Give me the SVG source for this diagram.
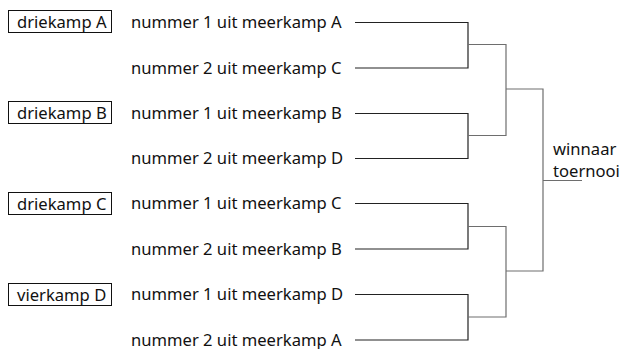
<svg xmlns="http://www.w3.org/2000/svg" width="624" height="349" viewBox="0 0 624 349">
  <style>
    text { font-family: "Noto Sans", "Open Sans", sans-serif; font-size: 16.6px; fill: #111; }
    .box { fill: #fff; stroke: #111; stroke-width: 1; }
    .r1 { fill: none; stroke: #222; stroke-width: 1.2; }
    .r2 { fill: none; stroke: #6e6e6e; stroke-width: 1.2; }
  </style>
  <rect width="624" height="349" fill="#fff"/>

  <!-- tournaments -->
  <g id="driekamp-a"><rect class="box" x="8.5" y="10.5" width="103" height="22"/><text x="17" y="28">driekamp A</text></g>
  <g id="driekamp-b"><rect class="box" x="8.5" y="101.5" width="103" height="22"/><text x="17" y="119">driekamp B</text></g>
  <g id="driekamp-c"><rect class="box" x="8.5" y="192.5" width="103" height="22"/><text x="17" y="210">driekamp C</text></g>
  <g id="vierkamp-d"><rect class="box" x="8.5" y="283.5" width="103" height="22"/><text x="17" y="301">vierkamp D</text></g>

  <!-- entrants -->
  <g id="p1"><text x="131" y="28">nummer 1 uit meerkamp A</text></g>
  <g id="p2"><text x="131" y="73.5">nummer 2 uit meerkamp C</text></g>
  <g id="p3"><text x="131" y="119">nummer 1 uit meerkamp B</text></g>
  <g id="p4"><text x="131" y="164">nummer 2 uit meerkamp D</text></g>
  <g id="p5"><text x="131" y="209">nummer 1 uit meerkamp C</text></g>
  <g id="p6"><text x="131" y="254.5">nummer 2 uit meerkamp B</text></g>
  <g id="p7"><text x="131" y="300">nummer 1 uit meerkamp D</text></g>
  <g id="p8"><text x="131" y="345.5">nummer 2 uit meerkamp A</text></g>

  <g id="winner"><text x="553" y="155" font-size="15.8">winnaar</text><text x="553" y="177" font-size="15.8">toernooi</text></g>

  <!-- bracket lines -->
  <g id="connectors">
    <path class="r1" d="M355 22.5H468V68H355"/>
    <path class="r1" d="M355 113.5H468V158.5H355"/>
    <path class="r1" d="M355 203.5H468V249H355"/>
    <path class="r1" d="M355 294.5H468V340H355"/>
    <path class="r2" d="M468 44.5H506V135.5H468"/>
    <path class="r2" d="M468 226.5H506V317H468"/>
    <path class="r2" d="M506 89H543V271H506"/>
    <path class="r2" d="M543 180.5H582"/>
  </g>
</svg>
